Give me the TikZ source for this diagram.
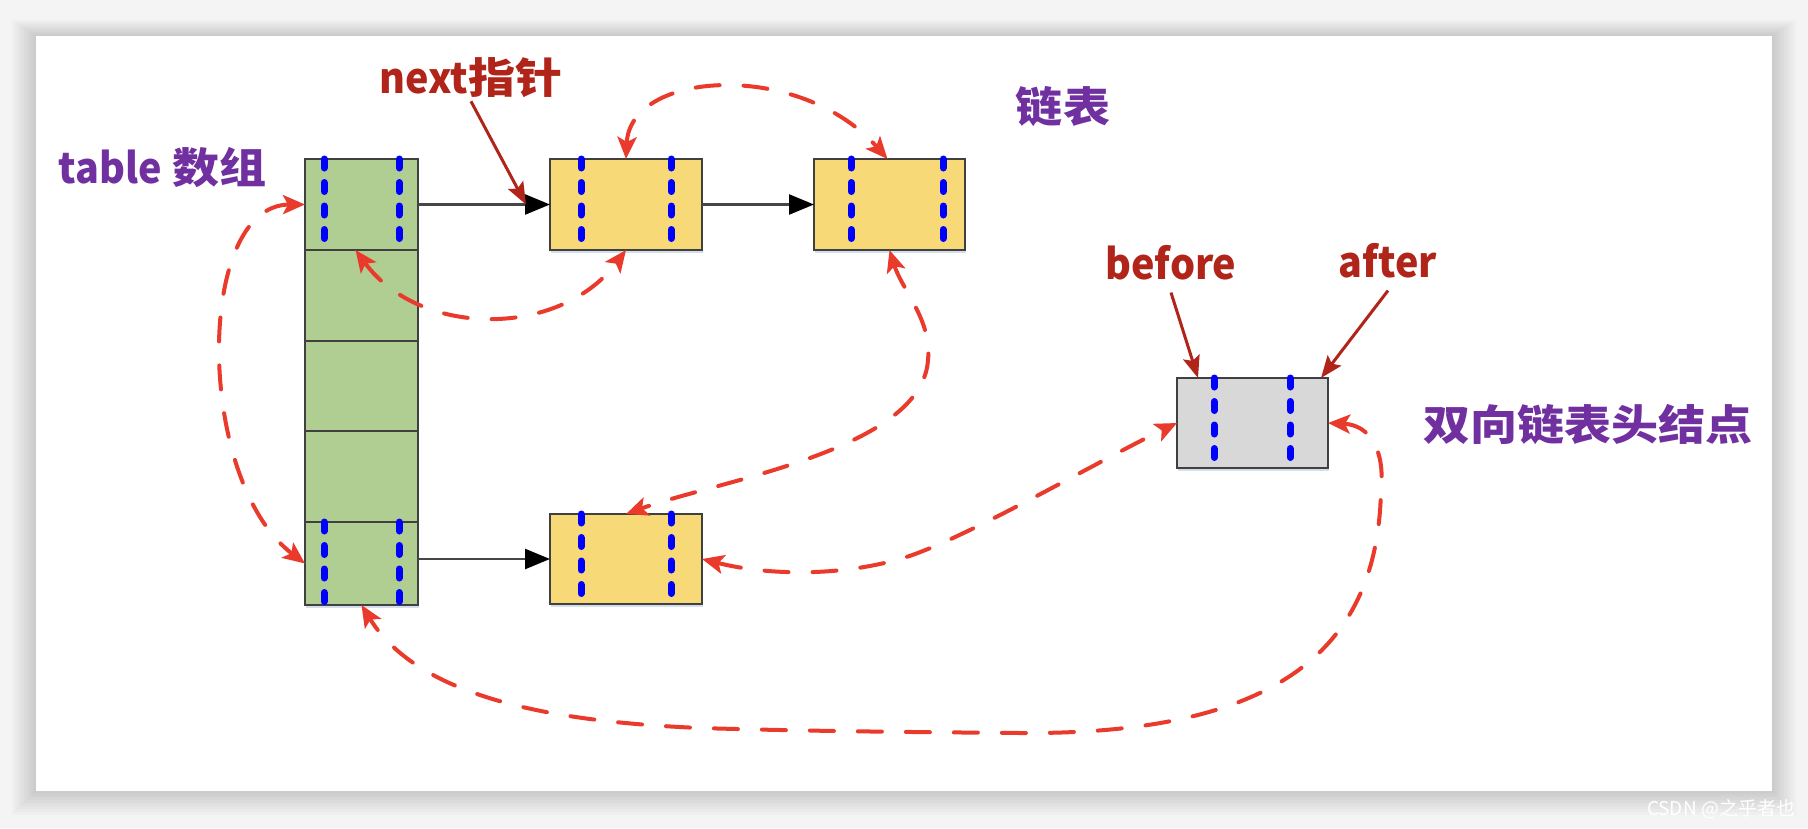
\documentclass[tikz,border=0pt]{standalone}
\usepackage{fontspec}
\newfontfamily\lblfont{Noto Sans CJK SC}[FakeStretch=1.12]
\newfontfamily\latfont{Noto Sans CJK SC}[FakeStretch=0.94]
\newfontfamily\wmfont{Noto Sans CJK SC}
\usetikzlibrary{arrows.meta,shadows}
\definecolor{purplec}{RGB}{112,48,160}
\definecolor{darkredc}{RGB}{176,36,26}
\definecolor{redc}{RGB}{234,58,44}
\definecolor{greenc}{RGB}{176,206,146}
\definecolor{yellowc}{RGB}{248,217,120}
\definecolor{grayc}{RGB}{216,216,216}
\definecolor{boxline}{RGB}{64,64,64}
\definecolor{bluec}{RGB}{0,0,255}
\definecolor{arrowgray}{RGB}{70,70,70}
\definecolor{bgc}{RGB}{244,244,244}
\definecolor{shadowc}{RGB}{195,210,232}
\begin{document}
\begin{tikzpicture}[x=1pt,y=-1pt,
  cell/.style={draw=boxline, line width=2.5pt, inner sep=0pt, outer sep=0pt,
    drop shadow={shadow xshift=1pt, shadow yshift=-3pt, fill=shadowc, opacity=0.7}},
  bdash/.style={draw=bluec, line width=7pt, line cap=round, dash pattern=on 9pt off 14.5pt},
  rlink/.style={draw=redc, line width=4pt, line cap=round, dash pattern=on 24pt off 24pt,
    {Stealth[length=22pt,width=19pt,inset=5pt]}-{Stealth[length=22pt,width=19pt,inset=5pt]}},
  nextarrow/.style={draw=arrowgray, line width=2.5pt, -{Triangle[length=25pt,width=20pt,color=black]}},
  lblarrow/.style={draw=darkredc, line width=3pt, -{Stealth[length=22pt,width=17pt,inset=4pt]}},
  lbl/.style={font=\lblfont\bfseries\fontsize{42}{46}\selectfont, inner sep=0pt},
]
\useasboundingbox (0,0) rectangle (1808,828);
\fill[bgc] (0,0) rectangle (1808,828);
\foreach \i in {1,...,8}{
  \fill[black, opacity=0.02] (36-3*\i,36-2*\i) rectangle (1772+3*\i,791+3*\i);
}
\fill[white] (36,36) rectangle (1772,791);

% table column
\node[cell, fill=greenc, minimum width=113pt, minimum height=91pt] (g1) at (361.5,204.5) {};
\node[cell, fill=greenc, minimum width=113pt, minimum height=91pt] (g2) at (361.5,295.5) {};
\node[cell, fill=greenc, minimum width=113pt, minimum height=90pt] (g3) at (361.5,386) {};
\node[cell, fill=greenc, minimum width=113pt, minimum height=91pt] (g4) at (361.5,476.5) {};
\node[cell, fill=greenc, minimum width=113pt, minimum height=83pt] (g5) at (361.5,563.5) {};

% list nodes
\node[cell, fill=yellowc, minimum width=152pt, minimum height=91pt] (y1) at (626,204.5) {};
\node[cell, fill=yellowc, minimum width=151pt, minimum height=91pt] (y2) at (889.5,204.5) {};
\node[cell, fill=yellowc, minimum width=152pt, minimum height=90pt] (y3) at (626,559) {};
\node[cell, fill=grayc, minimum width=151pt, minimum height=90pt] (h) at (1252.5,423) {};

% blue dashed pointer fields
\foreach \n/\a/\b in {g1/19/94, g5/19/94, y1/31/121, y2/37/129, y3/31/121, h/37/113}{
  \draw[bdash] ([xshift=\a pt]\n.north west) -- ([xshift=\a pt]\n.south west);
  \draw[bdash] ([xshift=\b pt]\n.north west) -- ([xshift=\b pt]\n.south west);
}

% next arrows
\draw[nextarrow] (g1.east) -- (y1.west);
\draw[nextarrow] (y1.east) -- (y2.west);
\draw[nextarrow] (g5.east |- y3.west) -- (y3.west);

% labels
\node[lbl, text=purplec] (tbl) at (163,168) {{\latfont table} 数组};
\node[lbl, text=darkredc] (nl) at (471,78) {{\latfont next}指针};
\node[lbl, text=purplec] (ll) at (1063,107) {链表};
\node[lbl, text=darkredc] (bf) at (1171,263) {\latfont before};
\node[lbl, text=darkredc] (af) at (1388,261) {\latfont after};
\node[lbl, text=purplec] (hl) at (1588,425) {双向链表头结点};

% label arrows
\draw[lblarrow] ([yshift=-3pt]nl.south) -- ([xshift=-24pt]y1.west);
\draw[lblarrow] ([yshift=-12pt]bf.south) -- ([xshift=21pt]h.north west);
\draw[lblarrow] ([yshift=-12pt]af.south) -- ([xshift=-7pt]h.north east);

% double links
\draw[rlink] (y1.north) .. controls (630,70) and (800,60) .. ([xshift=-2pt]y2.north);
\draw[rlink] ([xshift=-6pt]g1.south) .. controls (420,338) and (560,338) .. (y1.south);
\draw[rlink] (g1.west) .. controls (195,205) and (195,480) .. (g5.west);
\draw[rlink] (y2.south) .. controls (902,290) and (932,320) .. (928,360)
  .. controls (922,450) and (720,480) .. (y3.north);
\draw[rlink] (y3.east) .. controls (770,576) and (840,576) .. (900,559)
  .. controls (960,542) and (1100,460) .. (h.west);
\draw[rlink] (h.east) .. controls (1370,425) and (1385,450) .. (1381,490)
  .. controls (1378,640) and (1290,735) .. (1020,733)
  .. controls (900,732) and (800,731) .. (700,728)
  .. controls (560,722) and (420,700) .. (g5.south);

% watermark
\node[font=\wmfont\fontsize{19}{20}\selectfont, text=white, inner sep=0pt] (wm) at (1721,809) {CSDN @之乎者也};
\end{tikzpicture}
\end{document}
